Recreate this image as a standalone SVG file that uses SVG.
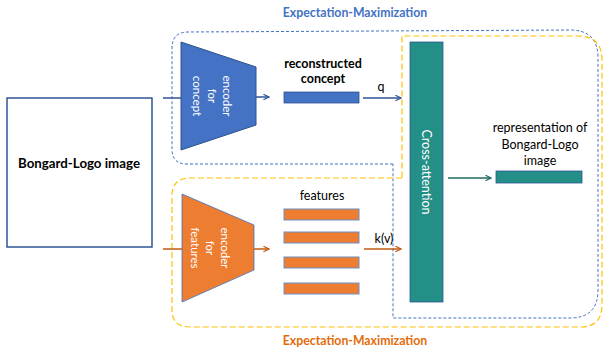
<svg xmlns="http://www.w3.org/2000/svg" width="604" height="350" viewBox="0 0 604 350">
<defs>
<style>
.t{font-family:Lato,"Open Sans","Liberation Sans",sans-serif;fill:#000;font-size:12.5px;text-anchor:middle}
.b{font-weight:bold}
.w{fill:#fff;font-size:11.5px}
.em{font-family:Lato,"Open Sans","Liberation Sans",sans-serif;font-weight:bold;font-size:12.3px;text-anchor:middle}
.ab{stroke:#2F5597;stroke-width:1.5;fill:none}
.ao{stroke:#C55A11;stroke-width:1.5;fill:none}
.at{stroke:#1E6B5F;stroke-width:1.5;fill:none}
.fb{fill:#ED7D31;stroke:#6F8FC9;stroke-width:1}
</style>
<marker id="mb" viewBox="0 0 10 10" refX="9" refY="5" markerWidth="7" markerHeight="7" markerUnits="userSpaceOnUse" orient="auto"><path d="M1,1 L9,5 L1,9" fill="none" stroke="#2F5597" stroke-width="1.6"/></marker>
<marker id="mo" viewBox="0 0 10 10" refX="9" refY="5" markerWidth="7" markerHeight="7" markerUnits="userSpaceOnUse" orient="auto"><path d="M1,1 L9,5 L1,9" fill="none" stroke="#C55A11" stroke-width="1.6"/></marker>
<marker id="mt" viewBox="0 0 10 10" refX="9" refY="5" markerWidth="7" markerHeight="7" markerUnits="userSpaceOnUse" orient="auto"><path d="M1,1 L9,5 L1,9" fill="none" stroke="#1E6B5F" stroke-width="1.6"/></marker>
</defs>
<rect width="604" height="350" fill="#fff"/>

<g id="em-blue">
<path d="M393,164 L187,164 Q172,164 172,149 L172,48 Q172,32 188,32 L570,30 Q598,30 598,58 L598,290 Q598,318 570,318 L393,318 Z" fill="none" stroke="#4472C4" stroke-width="1" stroke-dasharray="3,2"/>
<text class="em" x="355" y="17" fill="#4472C4">Expectation-Maximization</text>
</g>
<g id="em-orange">
<path d="M402,178 L190,178 Q172,178 172,196 L172,310 Q172,327 190,327 L580,327 Q602,327 602,305 L602,60 Q602,36 578,36 L402,36 Z" fill="none" stroke="#FFC000" stroke-width="1.2" stroke-dasharray="6,3"/>
<text class="em" x="355" y="345" fill="#E46C0A">Expectation-Maximization</text>
</g>

<g id="bongard">
<rect x="7" y="98" width="145" height="149" fill="#fff" stroke="#2F5597" stroke-width="1.5"/>
<text class="t b" x="79" y="168" style="font-size:13.3px">Bongard-Logo image</text>
</g>

<g id="enc-concept">
<polygon points="181,42 256,67 256,125 181,150" fill="#4472C4" stroke="#2F528F" stroke-width="1"/>
<g transform="translate(212,96) rotate(90)">
<text class="t w" x="0" y="-11">encoder</text>
<text class="t w" x="0" y="4">for</text>
<text class="t w" x="0" y="19">concept</text>
</g>
</g>

<g id="recon">
<text class="t b" x="323" y="68">reconstructed</text>
<text class="t b" x="323" y="83">concept</text>
<rect x="284" y="92" width="75" height="11" fill="#4472C4" stroke="#2F528F" stroke-width="0.8"/>
</g>

<g id="enc-features">
<polygon points="182,194 254,225 254,270 182,302" fill="#ED7D31" stroke="#4472C4" stroke-width="0.8"/>
<g transform="translate(210,248) rotate(90)">
<text class="t w" x="0" y="-11">encoder</text>
<text class="t w" x="0" y="4">for</text>
<text class="t w" x="0" y="19">features</text>
</g>
</g>

<g id="features">
<text class="t" x="322" y="200">features</text>
<rect class="fb" x="284" y="209" width="75" height="11"/>
<rect class="fb" x="284" y="232" width="75" height="11"/>
<rect class="fb" x="284" y="257" width="75" height="11"/>
<rect class="fb" x="284" y="283" width="75" height="11"/>
</g>

<g id="cross-attention">
<rect x="410" y="42" width="33" height="260" fill="#248F86" stroke="#2F5597" stroke-width="0.8"/>
<text class="t" x="0" y="0" transform="translate(422,172) rotate(90)" style="fill:#fff;font-size:12.5px">Cross-attention</text>
</g>

<g id="representation">
<text class="t" x="540" y="132">representation of</text>
<text class="t" x="540" y="149">Bongard-Logo</text>
<text class="t" x="540" y="165">image</text>
<rect x="496" y="171" width="86" height="12" fill="#248F86" stroke="#2F5597" stroke-width="0.8"/>
</g>

<g id="connectors">
<line class="ab" x1="163" y1="98" x2="181" y2="98"/>
<line class="ab" x1="256" y1="97" x2="269" y2="97" marker-end="url(#mb)"/>
<line class="ab" x1="363" y1="98" x2="401" y2="98" marker-end="url(#mb)"/>
<text class="t" x="381" y="91">q</text>
<line class="ao" x1="163" y1="249" x2="182" y2="249"/>
<line class="ao" x1="254" y1="249" x2="269" y2="249" marker-end="url(#mo)"/>
<line class="ao" x1="364" y1="249" x2="401" y2="249" marker-end="url(#mo)"/>
<text class="t" x="384" y="243">k(v)</text>
<line class="at" x1="448" y1="178" x2="491" y2="178" marker-end="url(#mt)"/>
</g>
</svg>
